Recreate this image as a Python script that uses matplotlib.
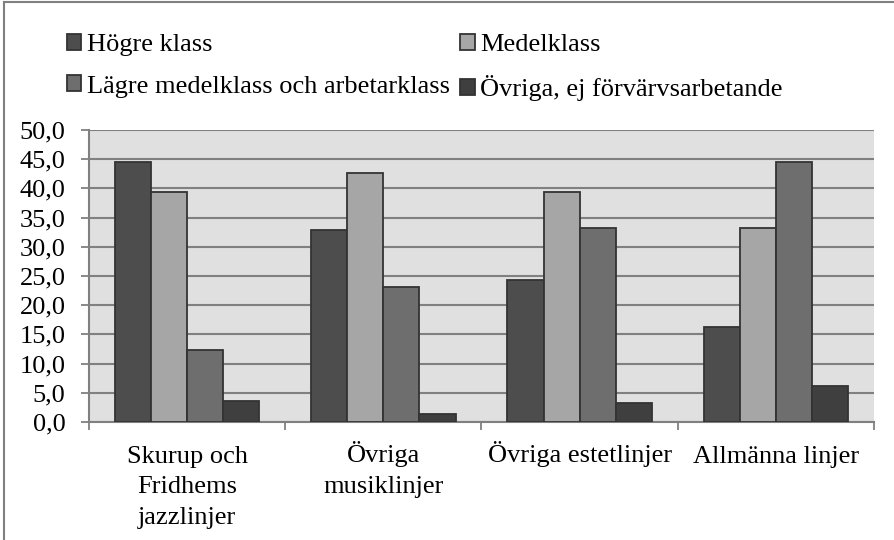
import matplotlib
matplotlib.use("Agg")
import matplotlib.pyplot as plt
import numpy as np

categories = ["Skurup och\nFridhems\njazzlinjer", "Övriga\nmusiklinjer", "Övriga estetlinjer", "Allmänna linjer"]
series_names = ["Högre klass", "Medelklass", "Lägre medelklass och arbetarklass", "Övriga, ej förvärvsarbetande"]
hogre = [44.5, 32.8, 24.3, 16.3]
medel = [39.3, 42.6, 39.3, 33.2]
lagre = [12.4, 23.1, 33.2, 44.5]
ovriga = [3.6, 1.4, 3.3, 6.1]
yticks = [0, 5, 10, 15, 20, 25, 30, 35, 40, 45, 50]
ytick_labels = ["0,0", "5,0", "10,0", "15,0", "20,0", "25,0", "30,0", "35,0", "40,0", "45,0", "50,0"]

colors = ["#4d4d4d", "#a6a6a6", "#6e6e6e", "#3f3f3f"]
FONT = "Liberation Serif"
plt.rcParams['font.family'] = [FONT, 'DejaVu Serif']
FS = 19

fig = plt.figure(figsize=(8.95, 5.4), dpi=100)
ax = fig.add_axes([89/895, 1-422/540, (874-89)/895, (422-130)/540])
ax.set_facecolor("#e0e0e0")

x = np.arange(len(categories))
w = 0.184
data = [hogre, medel, lagre, ovriga]
for i, (vals, c, name) in enumerate(zip(data, colors, series_names)):
    ax.bar(x + (i - 1.5) * w, vals, width=w, color=c, edgecolor="#333333",
           linewidth=1.3, label=name, zorder=3)

ax.set_xlim(-0.5, len(categories) - 0.5)
ax.set_ylim(0, 50)
ax.set_yticks(yticks)
ax.set_yticklabels(ytick_labels, fontsize=FS)
ax.yaxis.grid(True, color="#808080", linewidth=1.5, zorder=1)
ax.set_axisbelow(True)

ax.set_xticks(x)
ax.set_xticklabels(categories, fontsize=FS, linespacing=1.5, va="top")
ax.tick_params(axis="x", which="major", length=0, pad=17)
# align first-line baselines (labels starting with Ö have taller ascent)
for lab in ax.get_xticklabels():
    if lab.get_text().startswith("Ö"):
        lab.set_y(4.5 / 292)
ax.set_xticks(np.arange(len(categories) + 1) - 0.5, minor=True)
ax.tick_params(axis="x", which="minor", length=6, width=1.3, color="#808080", direction="out")
ax.tick_params(axis="y", length=6, width=1.3, color="#808080", pad=11)

for s in ["top", "right"]:
    ax.spines[s].set_visible(False)
ax.spines["left"].set_color("#808080")
ax.spines["left"].set_linewidth(1.5)
ax.spines["bottom"].set_color("#808080")
ax.spines["bottom"].set_linewidth(1.5)

handles, labels = ax.get_legend_handles_labels()
order = [0, 2, 1, 3]
fig.legend([handles[k] for k in order], [labels[k] for k in order],
           loc="upper left", bbox_to_anchor=(43/895, 1-10/540), ncol=2,
           frameon=False, fontsize=FS, handlelength=0.55, handleheight=0.55,
           handletextpad=0.2, columnspacing=0.4, labelspacing=0.73)

# outer frame (left and top edges visible)
fig.add_artist(plt.Line2D([4/895, 4/895], [0, 1-2/540], color="#808080", linewidth=1.5))
fig.add_artist(plt.Line2D([4/895, 1], [1-2/540, 1-2/540], color="#808080", linewidth=1.5))

fig.savefig("out.png", dpi=100)
